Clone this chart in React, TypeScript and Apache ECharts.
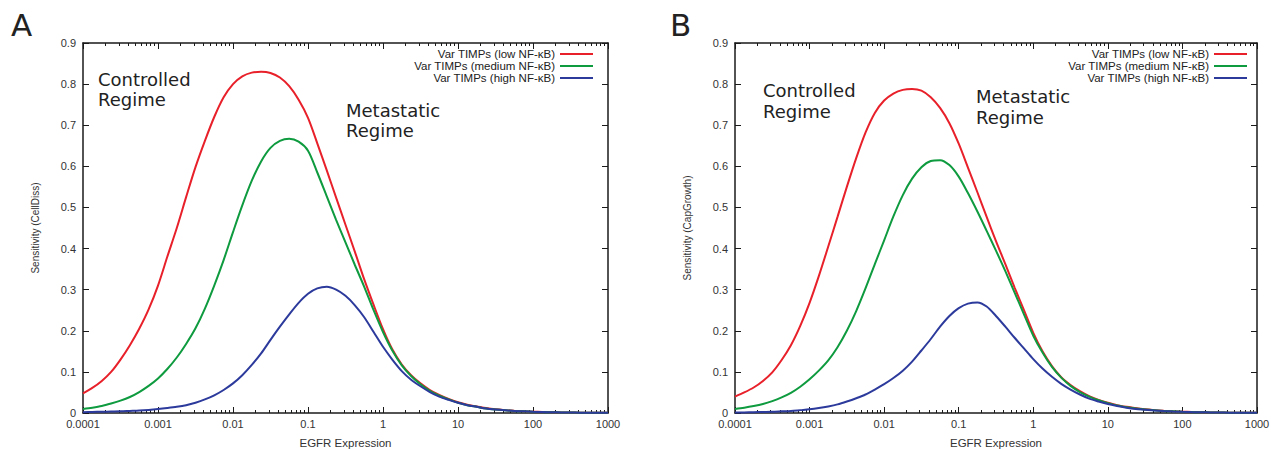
import React, { useEffect, useRef } from 'react';
import * as echarts from 'echarts';

// EGFR expression sample points (eighth decades from 1e-4 to 1e3)
const X_EGFR = [
  0.0001, 0.000133, 0.000178, 0.000237, 0.000316, 0.000422, 0.000562, 0.00075,
  0.001, 0.00133, 0.00178, 0.00237, 0.00316, 0.00422, 0.00562, 0.0075,
  0.01, 0.0133, 0.0178, 0.0237, 0.0316, 0.0422, 0.0562, 0.075,
  0.1, 0.133, 0.178, 0.237, 0.316, 0.422, 0.562, 0.75,
  1, 1.33, 1.78, 2.37, 3.16, 4.22, 5.62, 7.5,
  10, 13.3, 17.8, 23.7, 31.6, 42.2, 56.2, 75,
  100, 133, 178, 237, 316, 422, 562, 750, 1000,
];

// Panel A: Sensitivity (CellDiss)
const A_LOW = [
  0.048, 0.061, 0.078, 0.1, 0.13, 0.165, 0.205, 0.252,
  0.31, 0.38, 0.45, 0.525, 0.598, 0.662, 0.72, 0.768,
  0.8, 0.819, 0.828, 0.83, 0.827, 0.816, 0.795, 0.762,
  0.718, 0.656, 0.59, 0.524, 0.458, 0.392, 0.325, 0.263,
  0.204, 0.155, 0.118, 0.092, 0.072, 0.056, 0.044, 0.034,
  0.026, 0.02, 0.016, 0.012, 0.009, 0.007, 0.0055, 0.0043,
  0.0033, 0.0025, 0.002, 0.0015, 0.0012, 0.0009, 0.0007, 0.0005, 0.0004,
];
const A_MED = [
  0.01, 0.013, 0.017, 0.023, 0.03, 0.039, 0.051, 0.066,
  0.084, 0.107, 0.135, 0.168, 0.206, 0.254, 0.31, 0.372,
  0.44, 0.505, 0.565, 0.612, 0.645, 0.662, 0.667, 0.66,
  0.638, 0.585, 0.527, 0.47, 0.415, 0.36, 0.307, 0.25,
  0.197, 0.152, 0.116, 0.09, 0.07, 0.054, 0.042, 0.033,
  0.025, 0.019, 0.015, 0.011, 0.0085, 0.0066, 0.005, 0.004,
  0.003, 0.0024, 0.0018, 0.0014, 0.0011, 0.0008, 0.0006, 0.0005, 0.0004,
];
const A_HIGH = [
  0.002, 0.0025, 0.003, 0.0035, 0.004, 0.005, 0.006, 0.0075,
  0.0095, 0.012, 0.015, 0.019, 0.025, 0.033, 0.043, 0.056,
  0.072, 0.092, 0.117, 0.145, 0.178, 0.21, 0.24, 0.268,
  0.29, 0.303, 0.307, 0.3, 0.285, 0.262, 0.233, 0.197,
  0.161, 0.13, 0.102, 0.081, 0.065, 0.051, 0.04, 0.032,
  0.025, 0.019, 0.015, 0.011, 0.0085, 0.0066, 0.005, 0.004,
  0.003, 0.0024, 0.0018, 0.0014, 0.0011, 0.0008, 0.0006, 0.0005, 0.0004,
];

// Panel B: Sensitivity (CapGrowth)
const B_LOW = [
  0.04, 0.05, 0.062, 0.078, 0.099, 0.129, 0.165, 0.212,
  0.268, 0.333, 0.405, 0.477, 0.55, 0.62, 0.682, 0.73,
  0.76, 0.777, 0.786, 0.788, 0.784, 0.768, 0.742, 0.705,
  0.655, 0.597, 0.537, 0.477, 0.418, 0.362, 0.305, 0.25,
  0.195, 0.15, 0.114, 0.087, 0.068, 0.053, 0.041, 0.032,
  0.025, 0.019, 0.015, 0.012, 0.009, 0.007, 0.0055, 0.0043,
  0.0033, 0.0025, 0.002, 0.0015, 0.0012, 0.0009, 0.0007, 0.0005, 0.0004,
];
const B_MED = [
  0.01, 0.013, 0.017, 0.022, 0.029, 0.038, 0.049, 0.064,
  0.082, 0.103, 0.128, 0.16, 0.2, 0.248, 0.303, 0.362,
  0.42, 0.478, 0.53, 0.57, 0.598, 0.613, 0.615, 0.603,
  0.575, 0.535, 0.49, 0.443, 0.395, 0.345, 0.293, 0.24,
  0.188, 0.147, 0.112, 0.086, 0.066, 0.051, 0.04, 0.031,
  0.024, 0.018, 0.014, 0.011, 0.0085, 0.0066, 0.005, 0.004,
  0.003, 0.0024, 0.0018, 0.0014, 0.0011, 0.0008, 0.0006, 0.0005, 0.0004,
];
const B_HIGH = [
  0.001, 0.0015, 0.002, 0.0025, 0.003, 0.004, 0.005, 0.007,
  0.009, 0.012, 0.016, 0.021, 0.028, 0.036, 0.045, 0.057,
  0.07, 0.085, 0.103, 0.125, 0.152, 0.18, 0.21, 0.236,
  0.255, 0.266, 0.269, 0.259, 0.236, 0.21, 0.183, 0.157,
  0.131, 0.108, 0.088, 0.071, 0.057, 0.045, 0.035, 0.028,
  0.022, 0.017, 0.013, 0.01, 0.008, 0.006, 0.0047, 0.0037,
  0.0029, 0.0023, 0.0018, 0.0014, 0.0011, 0.0008, 0.0006, 0.0005, 0.0004,
];

const SERIES_NAMES = ['Var TIMPs (low NF-κB)', 'Var TIMPs (medium NF-κB)', 'Var TIMPs (high NF-κB)'];
const COLORS = ['#e8202a', '#0e9a3e', '#2c3a9c'];
const Y_NAMES = ['Sensitivity (CellDiss)', 'Sensitivity (CapGrowth)'];
const X_NAME = 'EGFR Expression';
const PANEL_LABELS = ['A', 'B'];
const REGIME_1 = ['Controlled', 'Regime'];
const REGIME_2 = ['Metastatic', 'Regime'];

const SANS = '"Liberation Sans", Arial, sans-serif';
const DEJAVU = '"DejaVu Sans", sans-serif';
const INK = '#1a1a1a';

const fmtX = (v: number) => String(Number(Number(v).toPrecision(6)));

function xAxes(gridIndex: number) {
  const common: any = {
    type: 'log',
    logBase: 10,
    min: 0.0001,
    max: 1000,
    gridIndex,
    splitLine: { show: false },
    minorSplitLine: { show: false },
    axisLine: { show: true, onZero: false, lineStyle: { color: INK, width: 1.5 } },
    axisTick: { show: true, inside: true, length: 6, lineStyle: { color: INK, width: 1 } },
    minorTick: { show: true, splitNumber: 9, length: 3, lineStyle: { color: INK, width: 1 } },
  };
  return [
    {
      ...common,
      position: 'bottom',
      name: X_NAME,
      nameLocation: 'middle',
      nameGap: 24,
      nameTextStyle: { color: '#333', fontSize: 11.5, fontFamily: SANS },
      axisLabel: { show: true, formatter: fmtX, color: '#333', fontSize: 11, fontFamily: SANS, margin: 5 },
    },
    { ...common, position: 'top', axisLabel: { show: false } },
  ];
}

function yAxes(gridIndex: number, name: string) {
  const common: any = {
    type: 'value',
    min: 0,
    max: 0.9,
    interval: 0.1,
    gridIndex,
    splitLine: { show: false },
    axisLine: { show: true, onZero: false, lineStyle: { color: INK, width: 1.5 } },
    axisTick: { show: true, inside: true, length: 6, lineStyle: { color: INK, width: 1 } },
  };
  return [
    {
      ...common,
      position: 'left',
      name,
      nameLocation: 'middle',
      nameRotate: 90,
      nameGap: 43,
      nameTextStyle: { color: '#333', fontSize: 10, fontFamily: SANS },
      axisLabel: { show: true, color: '#333', fontSize: 11, fontFamily: SANS, margin: 7 },
    },
    { ...common, position: 'right', axisLabel: { show: false } },
  ];
}

function lineSeries(name: string, color: string, ys: number[], axisIndex: number) {
  return {
    type: 'line',
    name,
    color,
    xAxisIndex: axisIndex,
    yAxisIndex: axisIndex,
    data: X_EGFR.map((x, i) => [x, ys[i]]),
    showSymbol: false,
    smooth: 0.3,
    lineStyle: { color, width: 2 },
    emphasis: { disabled: true },
  };
}

function legend(right: number) {
  return {
    orient: 'vertical',
    right,
    top: 48,
    padding: 0,
    align: 'right',
    itemGap: 0,
    itemWidth: 33,
    itemHeight: 2,
    icon: 'rect',
    selectedMode: false,
    data: SERIES_NAMES,
    textStyle: { color: '#222', fontSize: 11.5, fontFamily: SANS, lineHeight: 11 },
  };
}

function label(text: string, x: number, y: number, size: number) {
  return {
    type: 'text',
    x,
    y,
    style: { text, fontSize: size, fontFamily: DEJAVU, fill: '#222', align: 'left', verticalAlign: 'middle' },
  };
}

export default function App() {
  const ref = useRef<HTMLDivElement>(null);
  useEffect(() => {
    if (!ref.current) return;
    const chart = echarts.init(ref.current, null, { renderer: 'svg' });
    const option: any = {
      animation: false,
      backgroundColor: '#ffffff',
      textStyle: { fontFamily: SANS },
      grid: [
        { left: 83, top: 43, width: 525, height: 370, outerBoundsMode: 'none', containLabel: false },
        { left: 735, top: 43, width: 522, height: 370, outerBoundsMode: 'none', containLabel: false },
      ],
      xAxis: [...xAxes(0), ...xAxes(1)],
      yAxis: [...yAxes(0, Y_NAMES[0]), ...yAxes(1, Y_NAMES[1])],
      legend: [legend(678), legend(24)],
      series: [
        lineSeries(SERIES_NAMES[0], COLORS[0], A_LOW, 0),
        lineSeries(SERIES_NAMES[1], COLORS[1], A_MED, 0),
        lineSeries(SERIES_NAMES[2], COLORS[2], A_HIGH, 0),
        lineSeries(SERIES_NAMES[0], COLORS[0], B_LOW, 2),
        lineSeries(SERIES_NAMES[1], COLORS[1], B_MED, 2),
        lineSeries(SERIES_NAMES[2], COLORS[2], B_HIGH, 2),
      ],
      graphic: [
        label(PANEL_LABELS[0], 11, 24.5, 31),
        label(PANEL_LABELS[1], 670, 24.5, 31),
        label(REGIME_1[0], 98, 79, 18),
        label(REGIME_1[1], 98, 99, 18),
        label(REGIME_2[0], 346, 110, 18),
        label(REGIME_2[1], 346, 130.5, 18),
        label(REGIME_1[0], 763, 90, 18),
        label(REGIME_1[1], 763, 111, 18),
        label(REGIME_2[0], 976, 96, 18),
        label(REGIME_2[1], 976, 117, 18),
      ],
    };
    chart.setOption(option);
    return () => chart.dispose();
  }, []);
  return (
    <div
      ref={ref}
      style={{ position: 'absolute', left: 0, top: 0, width: 1271, height: 450, background: '#fff' }}
    />
  );
}
